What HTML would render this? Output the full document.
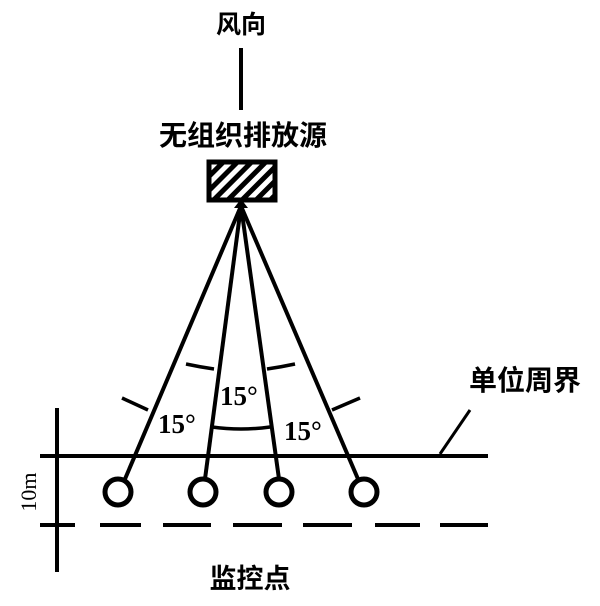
<!DOCTYPE html>
<html><head><meta charset="utf-8"><style>
body{margin:0;background:#fff}
svg{display:block}
text{font-family:"Liberation Serif","Noto Serif CJK SC",serif;fill:#000}
.c{font-family:"Liberation Sans","Noto Sans CJK SC",sans-serif;font-weight:bold}
</style></head><body>
<svg width="600" height="606" viewBox="0 0 600 606">
<defs><pattern id="h" width="10" height="10" patternUnits="userSpaceOnUse" patternTransform="rotate(-45)"><rect width="10" height="5" fill="#000"/></pattern></defs>
<text class="c" x="241" y="33" font-size="25" text-anchor="middle">风向</text>
<line x1="241" y1="48" x2="241" y2="110" stroke="#000" stroke-width="4"/>
<text class="c" x="243" y="145" font-size="28" text-anchor="middle">无组织排放源</text>
<rect x="209" y="162" width="66" height="38" fill="url(#h)" stroke="#000" stroke-width="5"/>
<polygon points="234,208 248,208 241,199" fill="#000"/>
<g stroke="#000" stroke-width="4" fill="none">
<line x1="241" y1="206" x2="125" y2="479"/>
<line x1="241" y1="206" x2="205" y2="479"/>
<line x1="241" y1="206" x2="279" y2="479"/>
<line x1="241" y1="206" x2="358" y2="479"/>
<circle cx="118" cy="492" r="13" stroke-width="5"/>
<circle cx="203" cy="492" r="13" stroke-width="5"/>
<circle cx="279" cy="492" r="13" stroke-width="5"/>
<circle cx="364" cy="492" r="13" stroke-width="5"/>
<line x1="40" y1="456" x2="488" y2="456"/>
<line x1="57" y1="408" x2="57" y2="572"/>
<line x1="40" y1="525" x2="75" y2="525"/>
<path d="M100 525H141M163 525H211M233 525H282M303 525H352M375 525H420M440 525H488"/>
<line x1="440" y1="454" x2="470" y2="410" stroke-width="3"/>
<path d="M122 398 Q135 404 148 410" stroke-width="3.5"/>
<path d="M186 364 Q200 367 214 369" stroke-width="3.5"/>
<path d="M267 369 Q281 367 295 364" stroke-width="3.5"/>
<path d="M332 410 Q346 404 360 398" stroke-width="3.5"/>
<path d="M212 427 Q241 431 270 427" stroke-width="3.5"/>
</g>
<text x="158" y="433" font-size="27" font-weight="bold">15°</text>
<text x="220" y="405" font-size="27" font-weight="bold">15°</text>
<text x="284" y="440" font-size="27" font-weight="bold">15°</text>
<text class="c" x="525" y="390" font-size="28" text-anchor="middle">单位周界</text>
<text x="36" y="492" font-size="22" text-anchor="middle" transform="rotate(-90 36 492)">10m</text>
<text class="c" x="250" y="588" font-size="27" text-anchor="middle">监控点</text>
</svg>
</body></html>
